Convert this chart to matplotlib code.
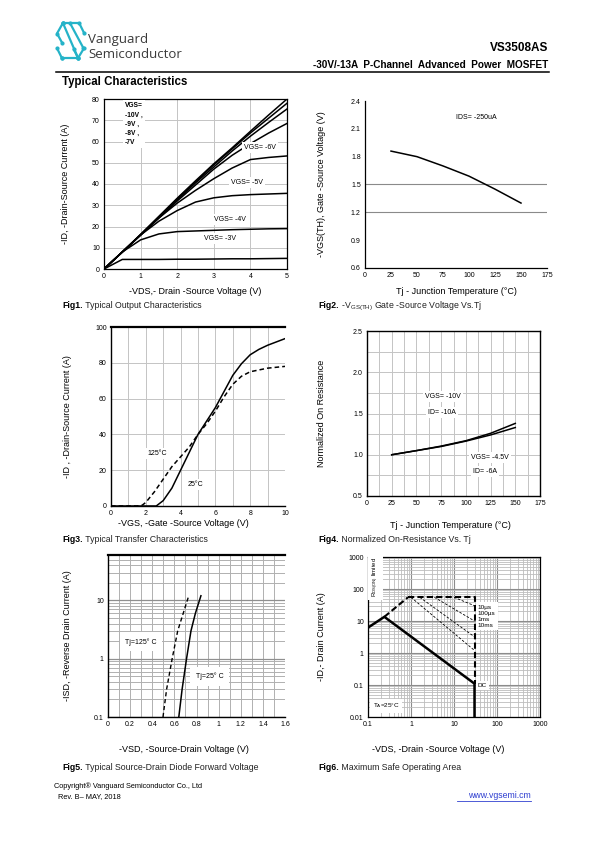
import matplotlib.pyplot as plt
import numpy as np

# ---- data ----
# Fig1 output characteristics
vds1 = [0, 0.5, 1, 1.5, 2, 2.5, 3, 3.5, 4, 4.5, 5]
id_vgs3 = [0, 4.5, 4.5, 4.5, 4.6, 4.6, 4.7, 4.8, 4.8, 4.9, 5.0]
id_vgs4 = [0, 8, 13.7, 16.5, 17.6, 17.9, 18.2, 18.5, 18.7, 18.9, 19.0]
id_vgs5 = [0, 8, 16, 22.5, 27.5, 31.5, 33.5, 34.5, 35.0, 35.3, 35.6]
id_vgs6 = [0, 8, 16, 24, 31, 37, 42.5, 47.5, 51.5, 52.5, 53.2]
id_vgs7 = [0, 8, 16, 24, 32, 39.5, 47, 53.5, 59, 64, 68.5]
id_vgs8 = [0, 8, 16, 24.3, 32.5, 40.5, 48, 55.5, 62.5, 69, 75.3]
id_vgs9 = [0, 8, 16.2, 24.5, 33, 41, 49, 56.5, 64, 71, 78]
id_vgs10 = [0, 8, 16.3, 24.8, 33.3, 41.5, 49.5, 57, 64.8, 72.5, 80]

# Fig2 threshold voltage vs Tj
tj2 = [25, 50, 75, 100, 125, 150]
vth = [1.86, 1.80, 1.70, 1.59, 1.45, 1.30]

# Fig3 transfer characteristics
vgs_25 = [0, 2.5, 2.6, 3.0, 3.5, 4.0, 4.5, 5.0, 5.5, 6.0, 6.5, 7.0, 7.5, 8.0, 8.5, 9.0, 10.0]
id_25 = [0, 0, 0, 3, 10, 20, 30, 40, 47.5, 55, 64, 73, 79.5, 84.5, 87.5, 89.8, 93.5]
vgs_125 = [0, 1.5, 1.8, 2.0, 2.5, 3.0, 3.5, 4.0, 4.5, 5.0, 5.5, 6.0, 6.5, 7.0, 7.5, 8.0, 9.0, 10.0]
id_125 = [0, 0, 0.5, 2, 8, 15, 22, 27.5, 33, 40, 46, 53, 61, 68, 72.5, 75, 77, 78]

# Fig4 normalized on-resistance
tj4 = [25, 50, 75, 100, 125, 150]
rn_10v = [1.0, 1.05, 1.105, 1.17, 1.26, 1.38]
rn_45v = [1.0, 1.05, 1.10, 1.165, 1.24, 1.33]

# Fig5 body diode forward voltage
vsd_125 = [0.497, 0.53, 0.58, 0.63, 0.68, 0.73]
vsd_25 = [0.64, 0.67, 0.71, 0.75, 0.79, 0.84]
isd = [0.1, 0.3, 1, 3, 6, 12]

# Fig6 safe operating area
dc_v = [0.1, 0.24, 30, 30]
dc_i = [6.2, 13.5, 0.11, 0.01]
rds_v = [0.24, 0.85]
rds_i = [13.5, 55]
lim_v = [0.85, 30, 30]
lim_i = [55, 55, 0.11]
pulse_start = [10, 3.5, 1.6, 1.0]
pulse_end = [30, 10, 3.2, 1.2]
pulse_names = ['10µs', '100µs', '1ms', '10ms']

W, H = 595, 842
plt.rcParams['font.family'] = ['Liberation Sans', 'DejaVu Sans']
plt.rcParams['mathtext.fontset'] = 'custom'
plt.rcParams['mathtext.rm'] = 'Liberation Sans'

fig = plt.figure(figsize=(W / 100, H / 100), dpi=100)
bg = fig.add_axes([0, 0, 1, 1])
bg.set_xlim(0, W)
bg.set_ylim(H, 0)
bg.axis('off')

GRID = '#c4c4c4'
TICK = 5
LAB = 6.5


def panel(b):
    x0, y0, x1, y1 = b
    ax = fig.add_axes([x0 / W, 1 - y1 / H, (x1 - x0) / W, (y1 - y0) / H])
    ax.tick_params(length=0, labelsize=TICK, pad=3)
    return ax


def labels(ax, b, xl, yl, xl_pos, yl_x):
    x0, y0, x1, y1 = b
    ax.set_xlabel(xl, fontsize=LAB, va='center')
    ax.xaxis.set_label_coords((xl_pos[0] - x0) / (x1 - x0), (y1 - xl_pos[1]) / (y1 - y0))
    ax.set_ylabel(yl, fontsize=LAB, va='center')
    ax.yaxis.set_label_coords((yl_x - x0) / (x1 - x0), 0.5)


def caption(x, y, num, txt):
    t = bg.text(x, y, num, fontsize=6.3, weight='bold', va='center')
    bg.annotate(txt, xy=(1, 0.5), xycoords=t, va='center', fontsize=6.3, color='#222222')


def spines(ax, show, lw=1.0):
    for k, s in ax.spines.items():
        s.set_visible(k in show)
        s.set_linewidth(lw)


box_w = dict(fc='white', ec='none', pad=1.5)

# ---- header ----
L = (57, 23, 84, 58)


def lp(u, v):
    return L[0] + u * (L[2] - L[0]), L[1] + v * (L[3] - L[1])


logo = [
    [(0.22, 0.0), (0.82, 0.0), (1.0, 0.28)],
    [(0.22, 0.0), (0.0, 0.3), (0.2, 0.58)],
    [(0.18, 1.0), (0.78, 1.0), (1.0, 0.72)],
    [(0.78, 1.0), (0.62, 0.75)],
    [(0.18, 1.0), (0.0, 0.72)],
    [(0.22, 0.0), (0.78, 1.0)],
    [(0.48, 0.0), (0.98, 0.72)],
]
for seg in logo:
    xs = [lp(u, v)[0] for u, v in seg]
    ys = [lp(u, v)[1] for u, v in seg]
    bg.plot(xs, ys, color='#25b3c8', lw=1.6, solid_capstyle='round')
    bg.plot(xs, ys, 'o', color='#25b3c8', ms=2.0)

bg.text(88, 39, 'Vanguard', fontsize=9.5, color='#3a3a3a', family='Open Sans', va='center')
bg.text(88, 54, 'Semiconductor', fontsize=9.5, color='#3a3a3a', family='Open Sans', va='center')
bg.text(548, 48, 'VS3508AS', fontsize=8.5, weight='bold', ha='right', va='center')
bg.text(548, 65, '-30V/-13A  P-Channel  Advanced  Power  MOSFET', fontsize=7.2,
        weight='bold', ha='right', va='center')
bg.plot([56, 549], [71.5, 71.5], color='black', lw=1.1)
bg.text(62, 82.5, 'Typical Characteristics', fontsize=8.3, weight='bold', va='center')

# ---- Fig1 ----
b1 = (104, 99, 287, 269)
ax = panel(b1)
for ys in [id_vgs3, id_vgs4, id_vgs5, id_vgs6, id_vgs7, id_vgs8, id_vgs9, id_vgs10]:
    ax.plot(vds1, ys, color='black', lw=1.1)
ax.set_xlim(0, 5)
ax.set_ylim(0, 80)
ax.set_xticks(range(0, 6))
ax.set_yticks(range(0, 90, 10))
ax.grid(color=GRID, lw=0.7)
ax.set_axisbelow(True)
spines(ax, ['left', 'bottom', 'top', 'right'], 0.9)
ax.text(0.58, 78.5, 'VGS=\n-10V ,\n-9V ,\n-8V ,\n-7V', fontsize=4.8, weight='bold',
        va='top', linespacing=1.45, bbox=box_w)
ax.text(4.27, 57, 'VGS= -6V', fontsize=5, ha='center', va='center', bbox=box_w)
ax.text(3.9, 40.8, 'VGS= -5V', fontsize=5, ha='center', va='center', bbox=box_w)
ax.text(3.43, 23.2, 'VGS= -4V', fontsize=5, ha='center', va='center', bbox=box_w)
ax.text(3.17, 14.5, 'VGS= -3V', fontsize=5, ha='center', va='center', bbox=box_w)
labels(ax, b1, '-VDS,- Drain -Source Voltage (V)', '-ID, -Drain-Source Current (A)',
       (195, 291), 66)
caption(62, 306, 'Fig1.', ' Typical Output Characteristics')

# ---- Fig2 ----
b2 = (365, 101, 547, 268)
ax = panel(b2)
ax.plot(tj2, vth, color='black', lw=1.1)
ax.set_xlim(0, 175)
ax.set_ylim(0.6, 2.4)
ax.set_xticks(range(0, 200, 25))
ax.set_yticks([0.6, 0.9, 1.2, 1.5, 1.8, 2.1, 2.4])
ax.set_yticklabels(['0.6', '0.9', '1.2', '1.5', '1.8', '2.1', '2.4'])
for yv in [1.2, 1.5]:
    ax.axhline(yv, color='#8a8a8a', lw=0.8, zorder=0)
spines(ax, ['left', 'bottom'], 0.9)
ax.text(107, 2.22, 'IDS= -250uA', fontsize=5, ha='center', va='center')
labels(ax, b2, 'Tj - Junction Temperature (°C)', '-VGS(TH), Gate -Source Voltage (V)',
       (456, 291), 322)
caption(318, 306, 'Fig2.', r' -V$_{\mathregular{GS(TH)}}$ Gate -Source Voltage Vs.Tj')

# ---- Fig3 ----
b3 = (111, 327, 285, 506)
ax = panel(b3)
ax.plot(vgs_25, id_25, color='black', lw=1.1)
ax.plot(vgs_125, id_125, color='black', lw=1.1, ls=(0, (3, 2)))
ax.set_xlim(0, 10)
ax.set_ylim(0, 100)
ax.set_xticks(range(0, 11, 2))
ax.set_yticks(range(0, 101, 20))
ax.set_xticks(range(0, 11), minor=True)
ax.tick_params(which='minor', length=0)
ax.grid(which='both', color=GRID, lw=0.7)
ax.set_axisbelow(True)
spines(ax, ['left', 'bottom', 'top'], 1.0)
ax.spines['top'].set_linewidth(1.6)
ax.text(2.63, 29.4, '125°C', fontsize=5, ha='center', va='center', bbox=box_w)
ax.text(4.83, 12.1, '25°C', fontsize=5, ha='center', va='center', bbox=box_w)
labels(ax, b3, '-VGS, -Gate -Source Voltage (V)', '-ID , -Drain-Source Current (A)',
       (183, 523), 68)
caption(62, 540, 'Fig3.', ' Typical Transfer Characteristics')

# ---- Fig4 ----
b4 = (367, 331, 540, 496)
ax = panel(b4)
ax.plot(tj4, rn_10v, color='black', lw=1.1)
ax.plot(tj4, rn_45v, color='black', lw=1.1)
ax.set_xlim(0, 175)
ax.set_ylim(0.5, 2.5)
ax.set_xticks(range(0, 200, 25))
ax.set_yticks([0.5, 1.0, 1.5, 2.0, 2.5])
ax.set_yticklabels(['0.5', '1.0', '1.5', '2.0', '2.5'])
ax.set_xticks(np.arange(0, 176, 12.5), minor=True)
ax.set_yticks(np.arange(0.5, 2.51, 0.25), minor=True)
ax.tick_params(which='minor', length=0)
ax.grid(which='both', color=GRID, lw=0.7)
ax.set_axisbelow(True)
spines(ax, ['left', 'bottom', 'top', 'right'], 1.0)
ax.text(77, 1.71, 'VGS= -10V', fontsize=5, ha='center', va='center', bbox=box_w)
ax.text(76, 1.51, 'ID= -10A', fontsize=5, ha='center', va='center', bbox=box_w)
ax.text(124, 0.97, 'VGS= -4.5V', fontsize=5, ha='center', va='center', bbox=box_w)
ax.text(119, 0.80, 'ID= -6A', fontsize=5, ha='center', va='center', bbox=box_w)
labels(ax, b4, 'Tj - Junction Temperature (°C)', 'Normalized On Resistance',
       (450, 525), 321)
caption(318, 540, 'Fig4.', ' Normalized On-Resistance Vs. Tj')

# ---- Fig5 ----
b5 = (108, 555, 285, 717)
ax = panel(b5)
ax.plot(vsd_125, isd, color='black', lw=1.0, ls=(0, (3, 2)))
ax.plot(vsd_25, isd, color='black', lw=1.1)
ax.set_yscale('log')
ax.set_xlim(0, 1.6)
ax.set_ylim(0.1, 60)
ax.set_xticks(np.arange(0, 1.61, 0.2))
ax.set_xticklabels(['0', '0.2', '0.4', '0.6', '0.8', '1', '1.2', '1.4', '1.6'])
ax.set_xticks(np.arange(0, 1.61, 0.1), minor=True)
ax.set_yticks([0.1, 1, 10])
ax.set_yticklabels(['0.1', '1', '10'])
ax.tick_params(which='minor', length=0, labelleft=False)
ax.grid(which='both', color='#b0b0b0', lw=0.7)
ax.grid(which='major', axis='y', color='#909090', lw=0.9)
ax.set_axisbelow(True)
spines(ax, ['left', 'bottom', 'top'], 1.0)
ax.spines['top'].set_linewidth(1.6)
ax.text(0.30, 1.95, 'Tj=125° C', fontsize=5, ha='center', va='center',
        bbox=dict(fc='white', ec='none', pad=4))
ax.text(0.92, 0.5, 'Tj=25° C', fontsize=5, ha='center', va='center',
        bbox=dict(fc='white', ec='none', pad=4))
labels(ax, b5, '-VSD, -Source-Drain Voltage (V)', '-ISD, -Reverse Drain Current (A)',
       (184, 750), 67)
caption(62, 767, 'Fig5.', ' Typical Source-Drain Diode Forward Voltage')

# ---- Fig6 ----
b6 = (368, 557, 540, 717)
ax = panel(b6)
ax.set_xscale('log')
ax.set_yscale('log')
ax.plot(dc_v, dc_i, color='black', lw=1.8)
ax.plot(rds_v, rds_i, color='black', lw=1.5, ls=(0, (3, 1.5)))
ax.plot(lim_v, lim_i, color='black', lw=1.5, ls=(0, (3, 1.5)))
for v0, i1 in zip(pulse_start, pulse_end):
    ax.plot([v0, 30], [55, i1], color='black', lw=0.6, ls=(0, (3, 2)))
ax.set_xlim(0.1, 1000)
ax.set_ylim(0.01, 1000)
ax.set_xticks([0.1, 1, 10, 100, 1000])
ax.set_xticklabels(['0.1', '1', '10', '100', '1000'])
ax.set_yticks([0.01, 0.1, 1, 10, 100, 1000])
ax.set_yticklabels(['0.01', '0.1', '1', '10', '100', '1000'])
ax.tick_params(which='minor', length=0, labelbottom=False, labelleft=False)
ax.grid(which='both', color='#bdbdbd', lw=0.6)
ax.grid(which='major', color='#8c8c8c', lw=0.8)
ax.set_axisbelow(True)
spines(ax, ['left', 'bottom', 'top', 'right'], 0.9)
ax.text(36, 14, '\n'.join(pulse_names), fontsize=4.6, va='center', linespacing=1.3,
        bbox=dict(fc='white', ec='none', pad=1.5))
ax.text(36, 0.095, 'DC', fontsize=4.6, va='center', bbox=box_w)
ax.text(0.13, 0.022, r'T$_{\mathregular{A}}$=25°C', fontsize=4.6, va='center',
        bbox=dict(fc='white', ec='none', pad=2))
ax.text(0.15, 230, r'R$_{\mathregular{DS(ON)}}$ limited', fontsize=4.3, rotation=90,
        ha='center', va='center', bbox=dict(fc='white', ec='none', pad=1.5))
labels(ax, b6, '-VDS, -Drain -Source Voltage (V)', '-ID,- Drain Current (A)',
       (438, 750), 321)
caption(318, 767, 'Fig6.', ' Maximum Safe Operating Area')

# ---- footer ----
bg.text(54, 786, 'Copyright® Vanguard Semiconductor Co., Ltd', fontsize=5.3, va='center')
bg.text(58, 797, 'Rev. B– MAY, 2018', fontsize=5.3, va='center')
bg.text(531, 796, 'www.vgsemi.cm', fontsize=6.3, color='#2f3fd0', ha='right', va='center')
bg.plot([457, 531], [800.5, 800.5], color='#2f3fd0', lw=0.6)

fig.savefig('out.png', dpi=100)
